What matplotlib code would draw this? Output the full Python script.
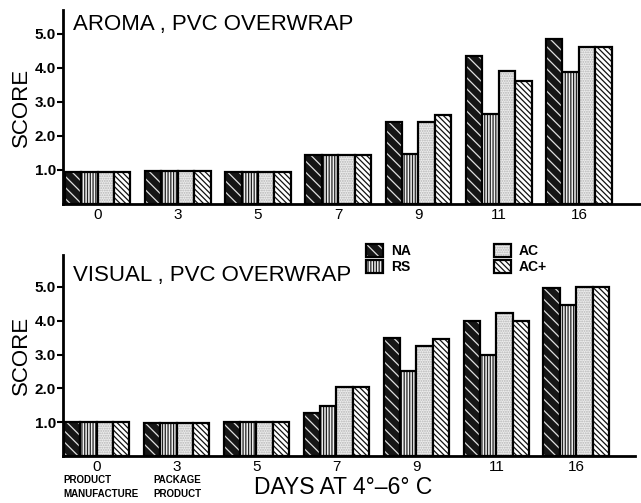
import numpy as np
import matplotlib.pyplot as plt
from matplotlib.patches import Patch
from matplotlib.legend_handler import HandlerTuple

plt.rcParams['font.family'] = ['Liberation Sans', 'DejaVu Sans']
plt.rcParams['hatch.linewidth'] = 0.9

days = ['0', '3', '5', '7', '9', '11', '16']
treatments = ['NA', 'RS', 'AC', 'AC+']

# sensory scores, PVC overwrap
aroma_na = [0.95, 0.97, 0.95, 1.45, 2.40, 4.35, 4.85]
aroma_rs = [0.95, 0.97, 0.95, 1.45, 1.47, 2.65, 3.88]
aroma_ac = [0.95, 0.97, 0.95, 1.45, 2.40, 3.90, 4.60]
aroma_acp = [0.95, 0.97, 0.95, 1.45, 2.60, 3.60, 4.60]

visual_na = [1.00, 0.98, 1.00, 1.27, 3.50, 4.00, 4.97]
visual_rs = [1.00, 0.98, 1.00, 1.48, 2.52, 3.00, 4.47]
visual_ac = [1.00, 0.98, 1.00, 2.03, 3.24, 4.23, 5.00]
visual_acp = [1.00, 0.98, 1.00, 2.03, 3.47, 4.00, 5.00]

# fill / hatch / hatch colour for each treatment
styles = {
    'NA': dict(facecolor='#161616', edgecolor='#e0e0e0', hatch='\\' * 3),
    'RS': dict(facecolor='#f0f0f0', edgecolor='#222222', hatch='|' * 6),
    'AC': dict(facecolor='#ececec', edgecolor='#b4b4b4', hatch='.' * 7),
    'AC+': dict(facecolor='white', edgecolor='#111111', hatch='\\' * 6),
}

width = 0.205


def draw_panel(ax, series, title, title_y, xlim, ylim):
    x = np.arange(len(days))
    for i, (name, vals) in enumerate(zip(treatments, series)):
        pos = x + (i - 1.5) * width
        ax.bar(pos, vals, width, linewidth=0, **styles[name])
        ax.bar(pos, vals, width, fill=False, edgecolor='black', linewidth=1.6)
    ax.set_xlim(*xlim)
    ax.set_ylim(*ylim)
    ax.set_xticks(x)
    ax.set_xticklabels(days, fontsize=11)
    ax.tick_params(axis='x', length=0, pad=3)
    ax.set_yticks([1, 2, 3, 4, 5])
    ax.set_yticklabels(['1.0', '2.0', '3.0', '4.0', '5.0'], fontsize=11, fontweight='bold')
    ax.tick_params(axis='y', length=4, width=1.5, pad=1)
    for s in ['top', 'right']:
        ax.spines[s].set_visible(False)
    for s in ['left', 'bottom']:
        ax.spines[s].set_linewidth(2)
    ax.set_ylabel('SCORE', fontsize=16, labelpad=2)
    ax.text(0.018, title_y, title, transform=ax.transAxes, fontsize=16,
            ha='left', va='center')


fig = plt.figure(figsize=(6.41, 5.03), dpi=100)
ax1 = fig.add_axes([0.0983, 0.5944, 0.900, 0.386])
ax2 = fig.add_axes([0.0983, 0.0934, 0.893, 0.400])

draw_panel(ax1, [aroma_na, aroma_rs, aroma_ac, aroma_acp],
           'AROMA , PVC OVERWRAP', 0.923, (-0.43, 6.76), (0, 5.7))
draw_panel(ax2, [visual_na, visual_rs, visual_ac, visual_acp],
           'VISUAL , PVC OVERWRAP', 0.895, (-0.42, 6.74), (0, 5.95))

# notes under the first two storage days
note_kw = dict(fontsize=7, fontweight='bold', ha='left', va='top',
               transform=ax2.get_xaxis_transform(), linespacing=1.5)
ax2.text(-0.41, -0.095, 'PRODUCT\nMANUFACTURE', **note_kw)
ax2.text(0.71, -0.095, 'PACKAGE\nPRODUCT', **note_kw)
fig.text(0.535, 0.030, 'DAYS AT 4°–6° C', fontsize=16.5, ha='center', va='center')

handles = []
for name in treatments:
    fill = Patch(linewidth=0, **styles[name])
    edge = Patch(fill=False, edgecolor='black', linewidth=1.6)
    handles.append((fill, edge))
fig.legend(handles, treatments, handler_map={tuple: HandlerTuple(ndivide=1)},
           loc='upper left', bbox_to_anchor=(359 / 641, 1 - 237 / 503),
           ncol=2, frameon=False, borderpad=0, handlelength=1.2,
           handleheight=1.05, handletextpad=0.6, labelspacing=0.15,
           columnspacing=6.0, prop=dict(size=10, weight='bold'))

fig.savefig('out.png', dpi=100)
